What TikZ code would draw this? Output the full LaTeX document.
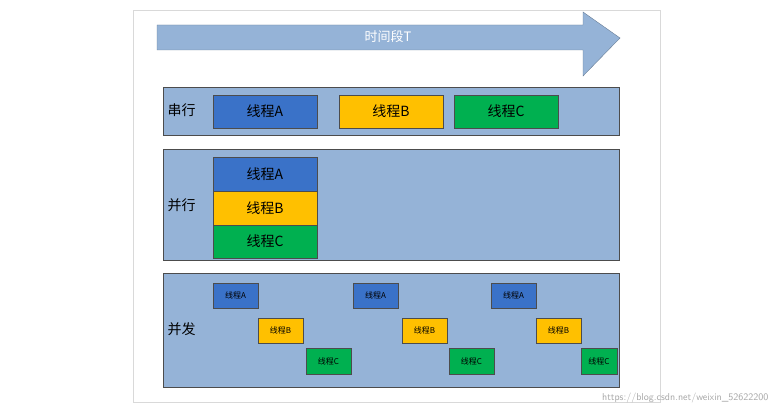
\documentclass[tikz,border=0pt]{standalone}
\usepackage{fontspec}
\newfontfamily\cjk{Noto Sans CJK SC}
\definecolor{panel}{HTML}{95B3D7}
\definecolor{ca}{HTML}{3A72C8}
\definecolor{cb}{HTML}{FFC000}
\definecolor{cc}{HTML}{00B050}
\begin{document}
\begin{tikzpicture}[x=1pt,y=-1pt,font=\cjk,
 panelbox/.style={draw=black!70,fill=panel},
 big/.style={draw=black!70,font=\cjk\fontsize{14}{16}\selectfont,inner sep=0},
 small/.style={draw=black!70,font=\cjk\fontsize{8}{9}\selectfont,inner sep=0},
 lab/.style={font=\cjk\fontsize{14}{16}\selectfont,anchor=west}]
\useasboundingbox (0,0) rectangle (777,414);
\draw[black!15] (133,10) rectangle (660,402);
\draw[draw=panel!70!black,fill=panel] (157,25) -- (583,25) -- (583,12) -- (620,38) -- (583,76) -- (583,50) -- (157,50) -- cycle;
\node[text=white,font=\cjk\fontsize{13}{15}\selectfont] (t) at (388,37) {时间段T};
\draw[panelbox] (163,87) rectangle (619,135);
\draw[panelbox] (163,149) rectangle (619,260);
\draw[panelbox] (163,273) rectangle (619,387);
\node[lab] (l1) at (164,110) {串行};
\node[lab] (l2) at (164,205) {并行};
\node[lab] (l3) at (164,329) {并发};
\newcommand\bx[6]{\path[#1,fill=#2] (#3,#4) rectangle (#5,#6) node[midway] {#1};}
\draw[big,fill=ca] (213,95) rectangle (317,128) node[midway] (a1) {线程A};
\draw[big,fill=cb] (339,95) rectangle (443,128) node[midway] (b1) {线程B};
\draw[big,fill=cc] (454,95) rectangle (558,128) node[midway] (c1) {线程C};
\draw[big,fill=ca] (213,157) rectangle (317,191) node[midway] (a2) {线程A};
\draw[big,fill=cb] (213,191) rectangle (317,225) node[midway] (b2) {线程B};
\draw[big,fill=cc] (213,225) rectangle (317,258) node[midway] (c2) {线程C};
\foreach \x/\n in {213/1,353/2,491/3}
  \draw[small,fill=ca] (\x,283) rectangle (\x+45,308) node[midway] (sa\n) {线程A};
\foreach \x/\n in {258/1,402/2,536/3}
  \draw[small,fill=cb] (\x,318) rectangle (\x+45,343) node[midway] (sb\n) {线程B};
\foreach \x/\w/\n in {306/45/1,449/45/2,581/36/3}
  \draw[small,fill=cc] (\x,348) rectangle (\x+\w,374) node[midway] (sc\n) {线程C};
\node[text=black!35,font=\fontsize{10}{12}\selectfont\sffamily,anchor=east] (wm) at (772,398) {https://blog.csdn.net/weixin\_52622200};
\end{tikzpicture}
\end{document}
